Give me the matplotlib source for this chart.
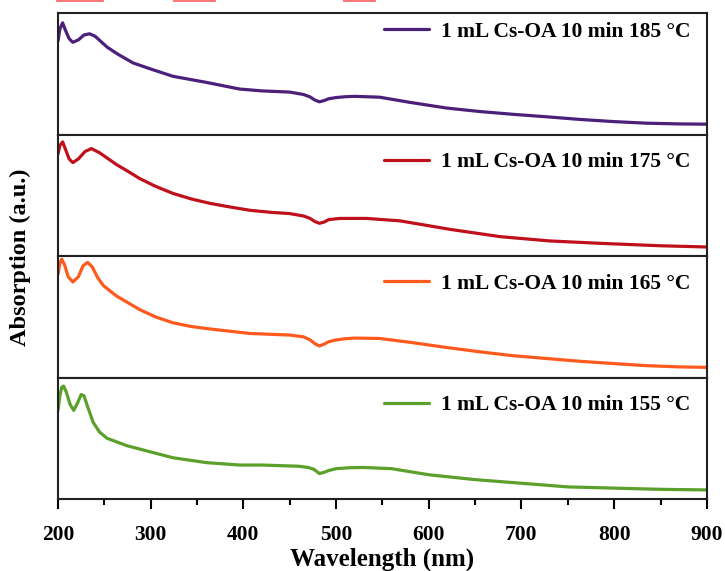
import matplotlib
matplotlib.use('Agg')
import matplotlib.pyplot as plt
from matplotlib.ticker import MultipleLocator
from matplotlib.patches import Rectangle

plt.rcParams['font.family'] = ['Liberation Serif', 'DejaVu Serif']
plt.rcParams['font.weight'] = 'bold'

# UV-vis absorption spectra, one sample per panel (top to bottom)
labels = ['1 mL Cs-OA 10 min 185 °C',
          '1 mL Cs-OA 10 min 175 °C',
          '1 mL Cs-OA 10 min 165 °C',
          '1 mL Cs-OA 10 min 155 °C']
colors = ['#4b1f7a', '#c0101c', '#ff5a1e', '#5ba02a']

wl_185 = [200, 202, 205, 208, 212, 216, 222, 228, 234, 240, 253, 265, 281, 300, 324, 360, 396,
          420, 450, 465, 472, 477, 482, 487, 492, 500, 510, 520, 547, 580, 619, 655, 691, 730, 763,
          800, 835, 870, 898, 900]
abs_185 = [0.77, 0.87, 0.92, 0.86, 0.79, 0.76, 0.78, 0.82, 0.83, 0.81, 0.72, 0.66, 0.59, 0.54, 0.48, 0.43, 0.375,
           0.36, 0.35, 0.33, 0.31, 0.285, 0.27, 0.28, 0.295, 0.305, 0.312, 0.315, 0.308, 0.265, 0.219, 0.19, 0.167,
           0.145, 0.125, 0.107, 0.094, 0.088, 0.086, 0.086]

wl_175 = [200, 202, 205, 208, 212, 216, 222, 229, 236, 245, 263, 275, 288, 305, 324, 344, 364, 385, 407,
          430, 450, 465, 472, 477, 482, 487, 492, 504, 520, 533, 569, 623, 677, 730, 785, 850, 900]
abs_175 = [0.84, 0.91, 0.94, 0.88, 0.80, 0.77, 0.80, 0.86, 0.885, 0.85, 0.754, 0.70, 0.639, 0.575, 0.516, 0.47, 0.434,
           0.405, 0.377, 0.36, 0.35, 0.33, 0.31, 0.285, 0.27, 0.28, 0.30, 0.31, 0.31, 0.31, 0.29, 0.22, 0.16,
           0.125, 0.105, 0.085, 0.075]

wl_165 = [200, 202, 204, 207, 211, 216, 222, 227, 232, 237, 243, 249, 263, 288, 305, 324, 344, 364, 407,
          450, 465, 472, 477, 482, 487, 492, 500, 510, 520, 547, 580, 619, 655, 691, 730, 763, 800, 835, 870, 900]
abs_165 = [0.85, 0.94, 0.975, 0.93, 0.83, 0.787, 0.83, 0.92, 0.948, 0.91, 0.82, 0.757, 0.672, 0.56, 0.50, 0.451, 0.42,
           0.40, 0.363, 0.35, 0.335, 0.31, 0.28, 0.26, 0.275, 0.295, 0.31, 0.32, 0.325, 0.322, 0.29, 0.248, 0.212,
           0.18, 0.155, 0.134, 0.115, 0.098, 0.088, 0.084]

wl_155 = [200, 202, 204, 206, 209, 213, 217, 221, 225, 228, 232, 238, 245, 253, 274, 299, 324, 360, 396,
          420, 460, 470, 476, 482, 487, 492, 500, 515, 530, 560, 600, 650, 700, 750, 800, 850, 900]
abs_155 = [0.73, 0.85, 0.92, 0.93, 0.88, 0.78, 0.73, 0.79, 0.86, 0.85, 0.76, 0.63, 0.55, 0.50, 0.44, 0.39, 0.34, 0.30, 0.28,
           0.28, 0.27, 0.26, 0.245, 0.21, 0.22, 0.235, 0.25, 0.258, 0.26, 0.25, 0.20, 0.16, 0.13, 0.10, 0.09, 0.08, 0.075]

spectra = [(wl_185, abs_185), (wl_175, abs_175), (wl_165, abs_165), (wl_155, abs_155)]
legend_y = [0.965, 0.89, 0.89, 0.89]

fig, axes = plt.subplots(4, 1, sharex=True, figsize=(7.25, 5.71), dpi=100)
fig.subplots_adjust(left=0.080, right=0.975, bottom=0.126, top=0.977, hspace=0)

for ax, (wl, ab), lab, col, ly in zip(axes, spectra, labels, colors, legend_y):
    ax.plot(wl, ab, color=col, lw=2.3, label=lab, solid_joinstyle='round', solid_capstyle='round')
    ax.set_ylim(0, 1.0)
    ax.set_yticks([])
    for sp in ax.spines.values():
        sp.set_linewidth(1.5)
        sp.set_color('#222222')
    ax.legend(loc='upper right', bbox_to_anchor=(0.981, ly), frameon=False, handlelength=2.1,
              handletextpad=0.55, borderaxespad=0.0, borderpad=0.2,
              prop={'weight': 'bold', 'size': 15.5})
    ax.tick_params(axis='x', which='both', bottom=False)

bottom = axes[-1]
bottom.set_xlim(200, 900)
bottom.xaxis.set_major_locator(MultipleLocator(100))
bottom.xaxis.set_minor_locator(MultipleLocator(50))
bottom.tick_params(axis='x', which='major', bottom=True, direction='out', length=7.5, width=1.5,
                   labelsize=15.5, pad=11)
bottom.tick_params(axis='x', which='minor', bottom=True, direction='out', length=4, width=1.5)
for t in bottom.get_xticklabels():
    t.set_fontweight('bold')
bottom.set_xlabel('Wavelength (nm)', fontsize=18, fontweight='bold', labelpad=2)
fig.text(0.028, 0.55, 'Absorption (a.u.)', rotation=90, ha='center', va='center',
         fontsize=17.5, fontweight='bold')

# clipped highlight strips along the upper edge
for x0, x1 in [(56, 104), (173, 216), (343, 376)]:
    fig.patches.append(Rectangle((x0 / 725, 1 - 2 / 571), (x1 - x0) / 725, 2 / 571,
                                 transform=fig.transFigure, color='#ff7b7b', lw=0))

fig.savefig('out.png', dpi=100)
